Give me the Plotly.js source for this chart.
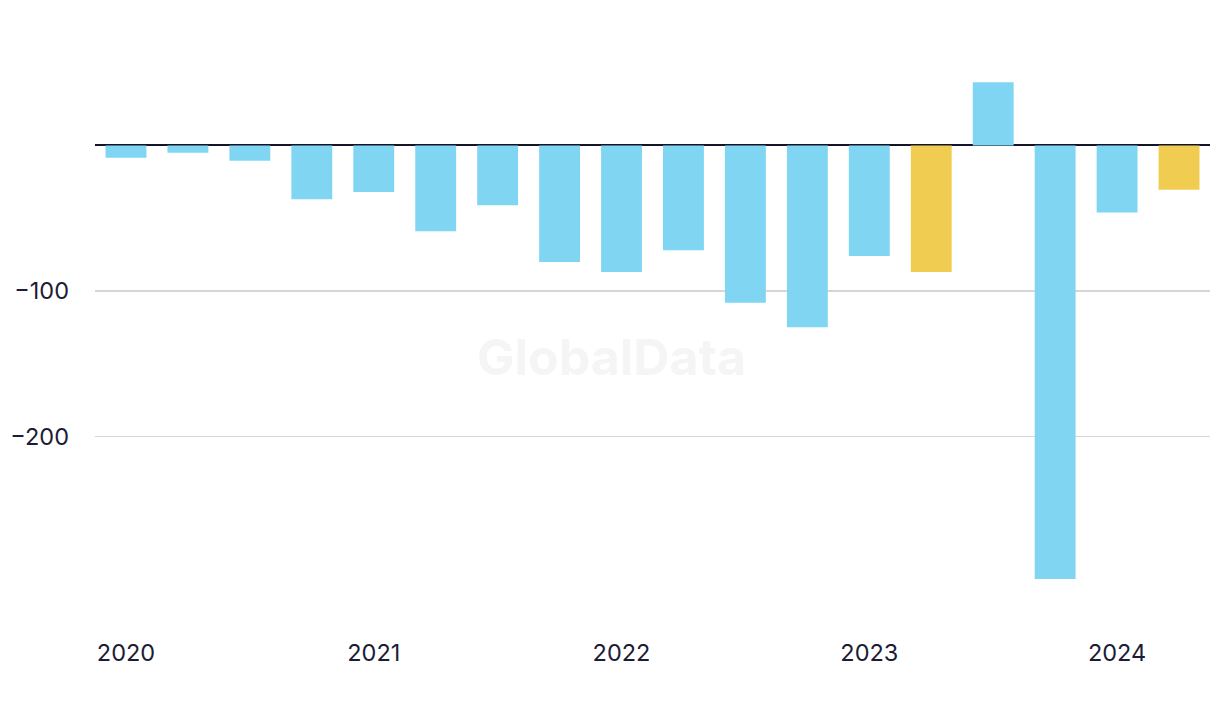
<!DOCTYPE html>
<html>
<head>
<meta charset="utf-8">
<script src="https://cdn.plot.ly/plotly-3.0.1.min.js"></script>
<style>html,body{margin:0;padding:0;background:#fff;}#chart{width:1220px;height:716px;}</style>
</head>
<body>
<div id="chart"></div>
<script>
const quarters = ["Q1 2020","Q2 2020","Q3 2020","Q4 2020","Q1 2021","Q2 2021","Q3 2021","Q4 2021","Q1 2022","Q2 2022","Q3 2022","Q4 2022","Q1 2023","Q2 2023","Q3 2023","Q4 2023","Q1 2024","Q2 2024"];
const values = [-8.5, -5, -10.5, -37, -32, -59, -41, -80, -87, -72, -108, -125, -76, -87, 43.5, -298, -46, -30.5];
const highlighted = [false,false,false,false,false,false,false,false,false,false,false,false,false,true,false,false,false,true];
const yearTickIndex = [0, 4, 8, 12, 16];
const yearLabels = ["2020","2021","2022","2023","2024"];
const yTicks = [-100, -200];
const yTickLabels = ["\u2212100", "\u2212200"];

const idx = quarters.map((q, i) => i);
const colors = highlighted.map(h => h ? "#F0CD50" : "#80D5F3");

const trace = {
  type: "bar",
  x: idx,
  y: values,
  text: quarters,
  marker: {color: colors, line: {width: 0}},
  width: 0.66,
  hoverinfo: "text+y",
  textposition: "none"
};

const font = {family: "Inter, 'Noto Sans', sans-serif", size: 23.5, color: "#1c1c36"};

const layout = {
  width: 1220,
  height: 716,
  margin: {l: 95, r: 10, t: 20, b: 86},
  paper_bgcolor: "#ffffff",
  plot_bgcolor: "#ffffff",
  font: font,
  showlegend: false,
  bargap: 0.34,
  xaxis: {
    range: [-0.5, 17.5],
    tickmode: "array",
    tickvals: yearTickIndex,
    ticktext: yearLabels,
    showgrid: false,
    zeroline: false,
    showline: false,
    ticks: "",
    ticklabelstandoff: 6,
    tickfont: font,
    fixedrange: true
  },
  yaxis: {
    range: [-333, 86.25],
    tickmode: "array",
    tickvals: yTicks,
    ticktext: yTickLabels,
    showgrid: true,
    gridcolor: "#d6d6d6",
    gridwidth: 1.5,
    zeroline: true,
    zerolinecolor: "#141428",
    zerolinewidth: 2,
    showline: false,
    ticks: "",
    ticklabelstandoff: 25,
    tickfont: font,
    fixedrange: true
  },
  annotations: [{
    text: "GlobalData",
    xref: "paper", yref: "paper",
    x: (611 - 95) / 1115, y: (630 - 357) / 610,
    xanchor: "center", yanchor: "middle",
    showarrow: false,
    font: {family: "Inter, 'Noto Sans', sans-serif", size: 50, color: "#f5f5f5", weight: 700}
  }]
};

Plotly.newPlot("chart", [trace], layout, {displayModeBar: false, staticPlot: true});
</script>
</body>
</html>
